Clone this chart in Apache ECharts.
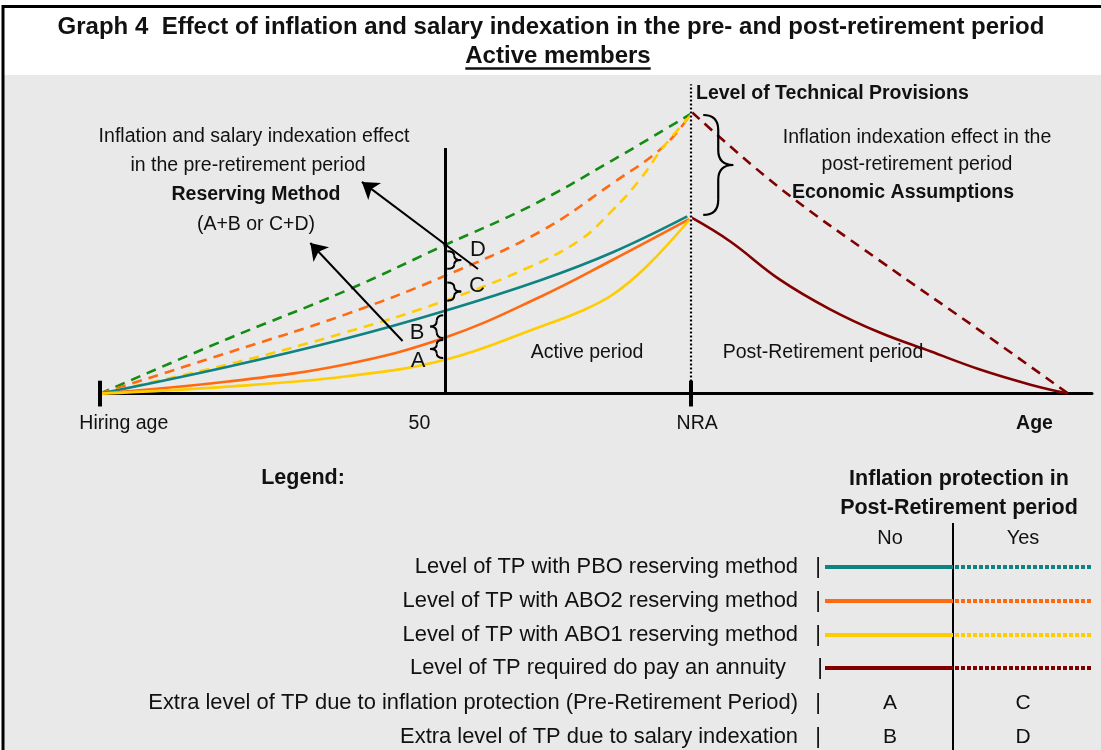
<!DOCTYPE html>
<html><head><meta charset="utf-8">
<script src="https://cdn.jsdelivr.net/npm/echarts@6/dist/echarts.min.js"></script>
<style>html,body{margin:0;padding:0;background:#fff}#c{width:1101px;height:750px}</style>
</head><body><div id="c"></div>
<script>
// ---- data (x: abstract age axis, hiring age = 0; y: level of technical provisions, peak = 100) ----
const xTickLabels = ['Hiring age', '50', 'NRA', 'Age'];
const xTickLabelPos = [2.4, 32.2, 60.2, 94.2];
const xHiring = 0, x50 = 34.8, xNRA = 59.6, xEnd = 97.6;

// pre-retirement, with inflation protection (dashed)
const pboInfl  = [[0,0],[12.9,19.6],[24.7,36.6],[34.8,53.1],[43.3,66.8],[51.7,83.4],[59.6,100]];
const abo2Infl = [[0,0],[12.9,14.6],[24.7,28.2],[34.8,42.1],[44.4,57.9],[51.7,75.2],[56.8,88.2],[59.6,100]];
const abo1Infl = [[0,0],[12.9,10.4],[24.7,21.8],[34.8,33.2],[43.3,45.2],[48.4,54.9],[51.7,65.6],[54.4,76.3],[56.8,88.1],[59.6,99.6]];
// pre-retirement, without inflation protection (solid)
const pboNo  = [[0,0],[12.9,9.6],[24.7,19.6],[34.8,29.6],[44.4,40.5],[51.7,50.5],[59.2,63.3]];
const abo2No = [[0,0],[12.9,4.3],[24.7,10.4],[34.8,20.0],[44.4,34.6],[51.7,47.8],[59.4,62.3]];
const abo1No = [[0,0],[12.9,2.5],[24.7,6.1],[34.8,12.1],[44.4,23.9],[48.4,29.3],[51.7,35.4],[55.1,45.4],[59.4,62.0]];
// post-retirement annuity
const annuityNo   = [[59.6,62.9],[63.5,54.4],[68.5,40.8],[73.6,30.1],[78.6,21.8],[83.7,15.1],[88.7,8.6],[93.8,3.2],[97.6,0]];
const annuityInfl = [[59.7,100.4],[68.5,73.5],[78.6,47.5],[88.7,22.5],[97.6,0]];

// arrows [tail, head]
const arrowUpper = [[38.1,44.5],[26.4,75.6]];
const arrowLower = [[30.5,18.8],[21.2,53.8]];
// braces: [yTop, yBottom]
const braceD = [50.8,44.6], braceC = [39.7,33.2], braceB = [28.0,19.9], braceA = [19.1,12.7];
const braceNRA = [99.5,63.8];

const legendRows = [
  'Level of TP with PBO reserving method',
  'Level of TP with ABO2 reserving method',
  'Level of TP with ABO1 reserving method',
  'Level of TP required do pay an annuity',
  'Extra level of TP due to inflation protection (Pre-Retirement Period)',
  'Extra level of TP due to salary indexation'
];
const legendNo  = ['', '', '', '', 'A', 'B'];
const legendYes = ['', '', '', '', 'C', 'D'];

const C = {green:'#128c12', teal:'#0f8282', orange:'#ff6a10', yellow:'#ffcc00', brown:'#800000'};
const legendColors = [C.teal, C.orange, C.yellow, C.brown];

// ---- chart ----
const FONT = '"Liberation Sans", Arial, Helvetica, sans-serif';
const chart = echarts.init(document.getElementById('c'), null, {renderer:'canvas'});

function curve(data, color, dashed, z) {
  return {type:'line', data, symbol:'none', showSymbol:false, smooth:0.4,
    silent:true, z: z || 3, clip:false,
    lineStyle:{color, width:2.6, type: dashed ? [10,7] : 'solid', cap:'butt'}};
}
function seg(coords, color, width, z, extra) {
  return Object.assign({type:'lines', coordinateSystem:'cartesian2d', silent:true, z: z || 5, clip:false,
    data:[{coords}], lineStyle:{color, width, opacity:1, curveness:0}}, extra || {});
}

const option = {
  animation:false,
  backgroundColor:'#ffffff',
  grid:{left:100, top:80, width:992, height:313.6, containLabel:false},
  xAxis:{type:'value', min:0, max:100,
    axisLine:{show:true, lineStyle:{color:'#000', width:3}},
    axisTick:{show:false}, splitLine:{show:false},
    axisLabel:{customValues:xTickLabelPos, margin:20, color:'#111', fontSize:19.5, fontFamily:FONT,
      formatter:(v)=>{let i=0,b=1e9;xTickLabelPos.forEach((p,k)=>{if(Math.abs(p-v)<b){b=Math.abs(p-v);i=k;}});return i===3?'{b|'+xTickLabels[i]+'}':xTickLabels[i];},
      rich:{b:{fontWeight:'bold', fontSize:19.5, fontFamily:FONT, color:'#111'}}}},
  yAxis:{type:'value', min:0, max:112, show:false},
  series:[
    curve(pboInfl, C.green, true),
    curve(abo2Infl, C.orange, true),
    curve(abo1Infl, C.yellow, true),
    curve(pboNo, C.teal, false),
    curve(abo2No, C.orange, false),
    curve(abo1No, C.yellow, false),
    curve(annuityInfl, C.brown, true),
    curve(annuityNo, C.brown, false),
    // vertical at age 50
    seg([[x50,0],[x50,87.7]], '#000', 3, 6),
    // NRA dotted line (white base + black dots)
    seg([[xNRA,0],[xNRA,110.5]], '#ffffff', 2.2, 6),
    seg([[xNRA,0],[xNRA,110.5]], '#000', 2.2, 7, {lineStyle:{color:'#000', width:2.2, opacity:1, type:[2,2], curveness:0}}),
    // axis ticks
    seg([[xHiring,-4.6],[xHiring,4.6]], '#000', 4, 8),
    seg([[xNRA,-4.6],[xNRA,4.6]], '#000', 4, 8),
    // arrows
    seg(arrowUpper, '#000', 2, 9, {symbol:['none','arrow'], symbolSize:[12,16]}),
    seg(arrowLower, '#000', 2, 9, {symbol:['none','arrow'], symbolSize:[12,16]})
  ]
};
chart.setOption(option);

// ---- annotations ----
const mctx = document.createElement('canvas').getContext('2d');
function txt(text, x, y, size, bold, align, extra) {
  return Object.assign({type:'text', x, y, silent:true, z:50, style:{text, fill:'#111',
    font:(bold?'bold ':'')+size+'px '+FONT, align:align||'center', verticalAlign:'middle',
    textAlign:align||'center', textVerticalAlign:'middle'}}, extra||{});
}
function line(x1,y1,x2,y2,color,w,dash,z) {
  return {type:'line', silent:true, z:z||40, shape:{x1,y1,x2,y2}, style:{stroke:color, lineWidth:w, lineDash:dash||null}};
}
function quad(x1,y1,cx,cy,x2,y2,lw) {
  return {type:'bezierCurve', silent:true, z:45, shape:{x1,y1,x2,y2,cpx1:cx,cpy1:cy}, style:{stroke:'#000', lineWidth:lw, fill:null}};
}
function braceEls(xData, yr, dx, w, lw) {
  const p0 = chart.convertToPixel({gridIndex:0}, [xData, yr[0]]);
  const p1 = chart.convertToPixel({gridIndex:0}, [xData, yr[1]]);
  const x = p0[0] + dx, y0 = p0[1], y1 = p1[1];
  const ym = (y0+y1)/2, h = w/2, r = Math.min(Math.abs(w)/2, (y1-y0)/4);
  return [
    quad(x, y0, x+h, y0, x+h, y0+r, lw),
    line(x+h, y0+r, x+h, ym-r, '#000', lw, null, 45),
    quad(x+h, ym-r, x+h, ym, x+w, ym, lw),
    quad(x+w, ym, x+h, ym, x+h, ym+r, lw),
    line(x+h, ym+r, x+h, y1-r, '#000', lw, null, 45),
    quad(x+h, y1-r, x+h, y1, x, y1, lw)
  ];
}

const g = [];
// backgrounds and frame
g.push({type:'rect', z:-10, silent:true, shape:{x:0,y:0,width:1101,height:750}, style:{fill:'#ffffff'}});
g.push({type:'rect', z:-9, silent:true, shape:{x:3,y:75,width:1110,height:690}, style:{fill:'#e9e9e9'}});
g.push({type:'rect', z:60, silent:true, shape:{x:3,y:6.5,width:1110,height:770}, style:{fill:null, stroke:'#000', lineWidth:3}});
// title
g.push(txt('Graph 4  Effect of inflation and salary indexation in the pre- and post-retirement period', 551, 27, 24, true));
g.push(txt('Active members', 558, 56, 24, true));
mctx.font = 'bold 24px ' + FONT;
const uw = mctx.measureText('Active members').width;
g.push(line(558-uw/2, 68.5, 558+uw/2, 68.5, '#111', 2.5));

// plot annotations
const PS = 19.5;
g.push(txt('Inflation and salary indexation effect', 254, 137, PS, false));
g.push(txt('in the pre-retirement period', 248, 166, PS, false));
g.push(txt('Reserving Method', 256, 195, PS, true));
g.push(txt('(A+B or C+D)', 256, 225, PS, false));
g.push(txt('Level of Technical Provisions', 696, 94, PS, true, 'left'));
g.push(txt('Inflation indexation effect in the', 917, 138, PS, false));
g.push(txt('post-retirement period', 917, 165, PS, false));
g.push(txt('Economic Assumptions', 903, 193, PS, true));
g.push(txt('Active period', 587, 353, PS, false));
g.push(txt('Post-Retirement period', 823, 353, PS, false));
g.push(txt('D', 478, 250, 22, false));
g.push(txt('C', 477, 286, 22, false));
g.push(txt('B', 417, 333, 22, false));
g.push(txt('A', 418, 361, 22, false));
// braces
[].push.apply(g, braceEls(x50, braceD, 2, 14, 2));
[].push.apply(g, braceEls(x50, braceC, 2, 14, 2));
[].push.apply(g, braceEls(x50, braceB, -2, -13, 2));
[].push.apply(g, braceEls(x50, braceA, -2, -13, 2));
[].push.apply(g, braceEls(xNRA, braceNRA, 12, 30, 2.2));

// legend block
g.push(txt('Legend:', 303, 478, 21.5, true));
g.push(txt('Inflation protection in', 959, 479, 21.5, true));
g.push(txt('Post-Retirement period', 959, 508, 21.5, true));
g.push(txt('No', 890, 538, 20, false));
g.push(txt('Yes', 1023, 538, 20, false));
g.push(line(953, 523, 953, 752, '#000', 2));
// legend row font size fitted to the reference width of the longest row
mctx.font = '20px ' + FONT;
const LS = Math.round(20 * 651 / mctx.measureText(legendRows[4]).width * 10) / 10;
const rowY = [567, 601, 635, 668, 703, 737];
legendRows.forEach((t, i) => {
  const right = i === 3 ? 786 : 798;
  g.push(txt(t, right, rowY[i], LS, false, 'right'));
  g.push(txt('|', i === 3 ? 820 : 818, rowY[i], LS, false));
  if (i < 4) {
    g.push(line(825, rowY[i], 953, rowY[i], legendColors[i], 4));
    g.push(line(955, rowY[i], 1092, rowY[i], legendColors[i], 4, [4,2]));
  } else {
    g.push(txt(legendNo[i], 890, rowY[i], 21, false));
    g.push(txt(legendYes[i], 1023, rowY[i], 21, false));
  }
});

chart.setOption({graphic:g});
</script></body></html>
